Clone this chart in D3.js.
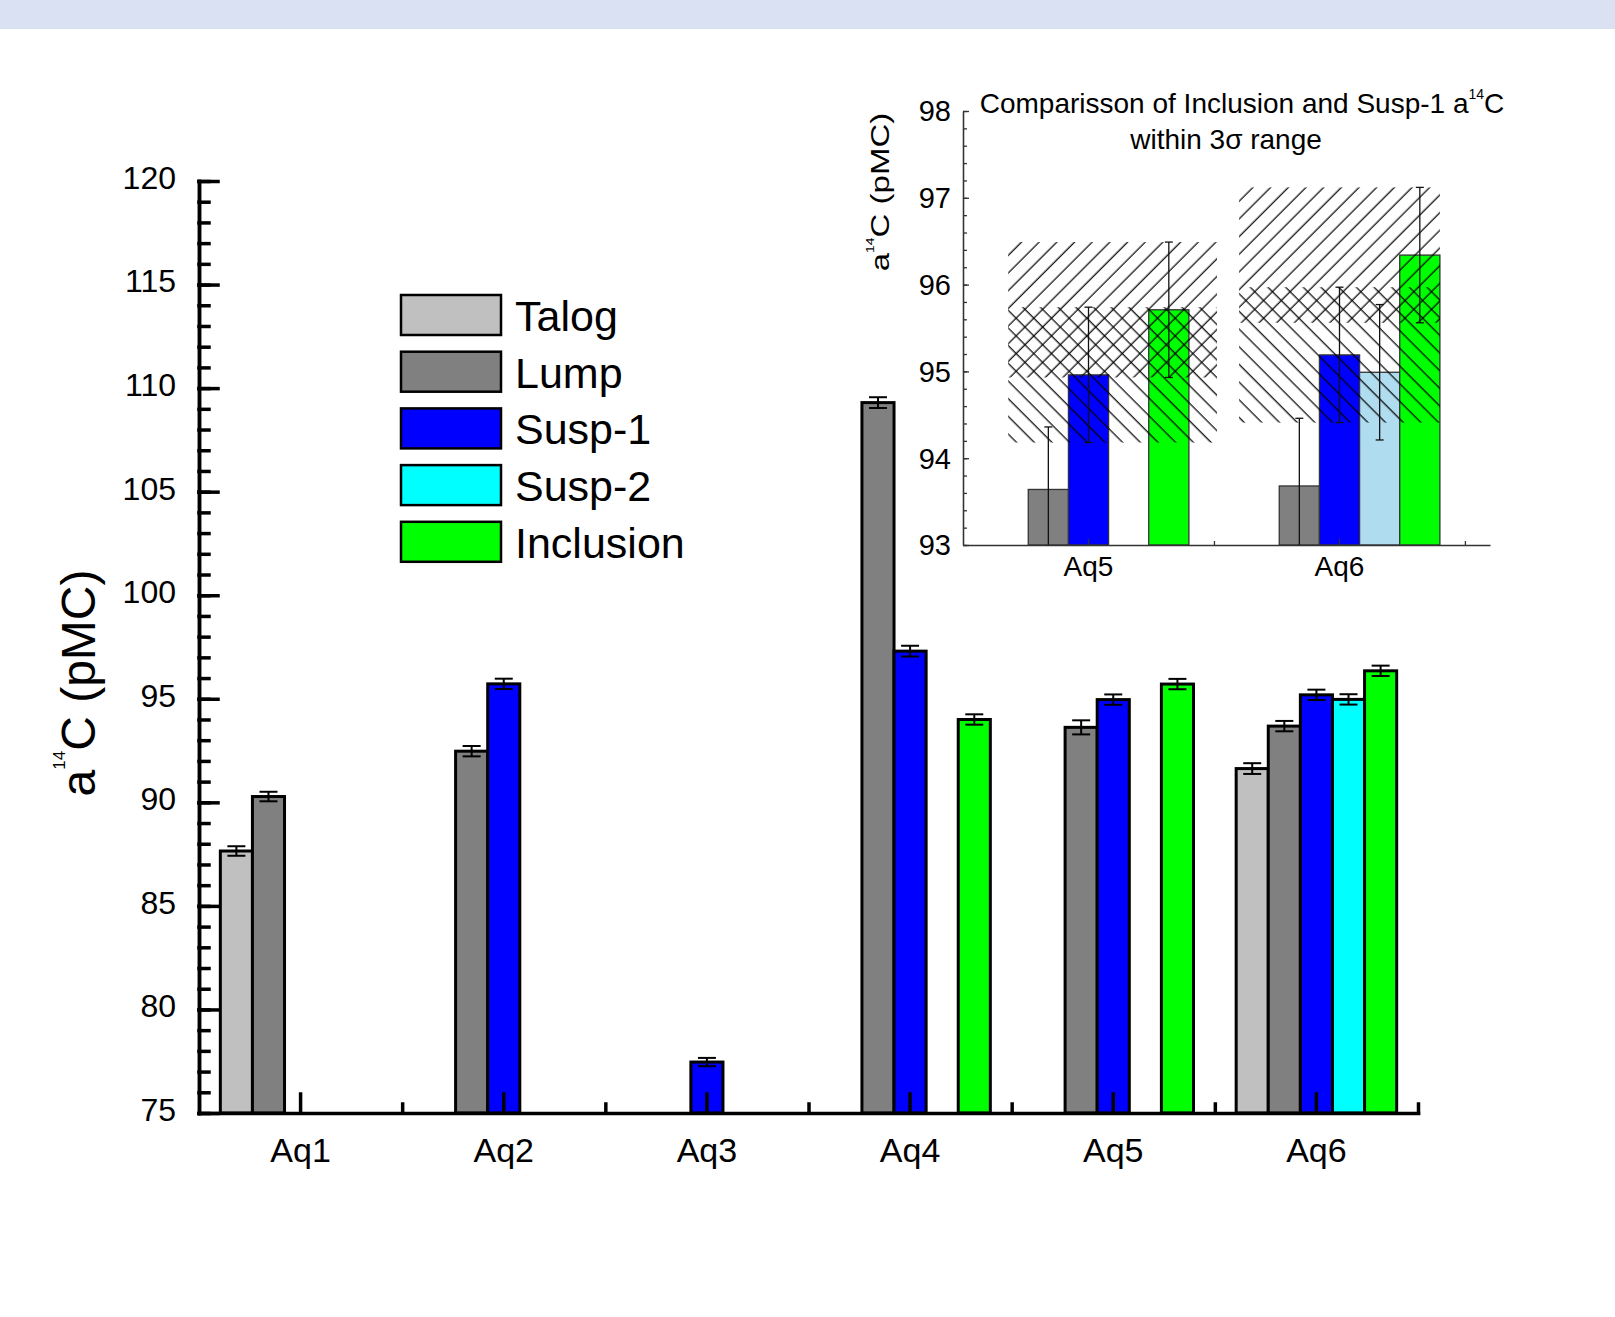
<!DOCTYPE html>
<html>
<head>
<meta charset="utf-8">
<script src="https://cdn.jsdelivr.net/npm/d3@7"></script>
<style>
  body { margin: 0; background: #fff; }
  svg { display: block; font-family: Arial, "Liberation Sans", sans-serif; }
</style>
</head>
<body>
<svg></svg>
<script>
const width = 1615;
const height = 1317;

// main chart data
const categories = ["Aq1", "Aq2", "Aq3", "Aq4", "Aq5", "Aq6"];
const seriesNames = ["Talog", "Lump", "Susp-1", "Susp-2", "Inclusion"];
const talog     = [87.65, null, null, null, null, 91.63];
const lump      = [90.28, 92.47, null, 109.3, 93.62, 93.68];
const susp1     = [null, 95.72, 77.46, 97.3, 94.96, 95.19];
const susp2     = [null, null, null, null, null, 94.97];
const inclusion = [null, null, null, 94.0, 95.71, 96.35];
const talogErr     = [0.23, null, null, null, null, 0.26];
const lumpErr      = [0.23, 0.25, null, 0.26, 0.34, 0.25];
const susp1Err     = [null, 0.25, 0.2, 0.26, 0.25, 0.25];
const susp2Err     = [null, null, null, null, null, 0.25];
const inclusionErr = [null, null, null, 0.25, 0.25, 0.25];
const yTicks = [75, 80, 85, 90, 95, 100, 105, 110, 115, 120];

// inset data (errors are 3 sigma)
const insetCategories = ["Aq5", "Aq6"];
const insetNames = ["Lump", "Susp-1", "Susp-2", "Inclusion"];
const insetLump      = [93.64, 93.68];
const insetSusp1     = [94.96, 95.19];
const insetSusp2     = [null, 94.99];
const insetInclusion = [95.71, 96.34];
const insetLumpErr      = [0.72, 0.78];
const insetSusp1Err     = [0.78, 0.78];
const insetSusp2Err     = [null, 0.78];
const insetInclusionErr = [0.78, 0.78];
const insetYTicks = [93, 94, 95, 96, 97, 98];

const colors = {"Talog": "#c0c0c0", "Lump": "#808080", "Susp-1": "#0000ff", "Susp-2": "#00ffff", "Inclusion": "#00ff00"};
const insetColors = {"Lump": "#808080", "Susp-1": "#0000ff", "Susp-2": "#b0dcf0", "Inclusion": "#00ff00"};

let svg = d3.select("svg")
    .attr("width", width)
    .attr("height", height);

// top band
svg.append("rect")
    .attr("x", 0).attr("y", 0)
    .attr("width", width).attr("height", 29)
    .attr("fill", "#d9e1f2");

let defs = svg.append("defs");
function hatch(id, angle) {
    let p = defs.append("pattern")
        .attr("id", id)
        .attr("patternUnits", "userSpaceOnUse")
        .attr("width", 12.5).attr("height", 12.5)
        .attr("patternTransform", `rotate(${angle})`);
    p.append("line")
        .attr("x1", 6).attr("y1", -2).attr("x2", 6).attr("y2", 15)
        .attr("stroke", "#000").attr("stroke-width", 1.2);
}
hatch("fwd", 45);
hatch("back", -45);

/////////////////// main chart

const x = d3.scaleBand().domain(categories).range([199, 1418]);
const xEdge = d3.scaleLinear().domain([0, categories.length]).range([199, 1418]);
const y = d3.scaleLinear().domain([75, 120]).range([1113, 181]);
const slotW = x.step() * 0.158;

const mainSeries = [talog, lump, susp1, susp2, inclusion];
const mainErrs = [talogErr, lumpErr, susp1Err, susp2Err, inclusionErr];
let bars = [];
mainSeries.forEach((vals, s) => vals.forEach((v, c) => {
    if (v != null) bars.push({cat: categories[c], slot: s, name: seriesNames[s], v: v, e: mainErrs[s][c]});
}));
const barX = d => x(d.cat) + x.bandwidth() / 2 + (d.slot - 2.5) * slotW;

let main = svg.append("g");
main.selectAll("rect.bar")
    .data(bars)
    .enter().append("rect")
    .attr("class", "bar")
    .attr("x", barX)
    .attr("y", d => y(d.v))
    .attr("width", slotW)
    .attr("height", d => y(75) - y(d.v))
    .attr("fill", d => colors[d.name])
    .attr("stroke", "#000")
    .attr("stroke-width", 3);

let errG = main.selectAll("g.err")
    .data(bars)
    .enter().append("g")
    .attr("class", "err")
    .attr("stroke", "#000")
    .attr("stroke-width", 2);
errG.append("line")
    .attr("x1", d => barX(d) + slotW / 2).attr("x2", d => barX(d) + slotW / 2)
    .attr("y1", d => y(d.v - d.e)).attr("y2", d => y(d.v + d.e));
errG.append("line")
    .attr("x1", d => barX(d) + slotW / 2 - 9).attr("x2", d => barX(d) + slotW / 2 + 9)
    .attr("y1", d => y(d.v + d.e)).attr("y2", d => y(d.v + d.e));
errG.append("line")
    .attr("x1", d => barX(d) + slotW / 2 - 9).attr("x2", d => barX(d) + slotW / 2 + 9)
    .attr("y1", d => y(d.v - d.e)).attr("y2", d => y(d.v - d.e));

function styleAxis(g, w, size) {
    g.attr("font-family", null).attr("font-size", null);
    g.selectAll("path, line").attr("stroke", "#000").attr("stroke-width", w).attr("stroke-linecap", "square");
    g.selectAll("text").attr("font-size", size).attr("fill", "#000");
}

// y axis
svg.append("g")
    .attr("transform", "translate(199,0)")
    .call(d3.axisLeft(y).tickValues(d3.range(75, 121, 1)).tickSize(-10).tickSizeOuter(0).tickFormat(""))
    .call(g => styleAxis(g, 3.5, 32));
svg.append("g")
    .attr("transform", "translate(199,0)")
    .call(d3.axisLeft(y).tickValues(yTicks).tickSize(-19).tickSizeOuter(0).tickPadding(23))
    .call(g => styleAxis(g, 3.5, 32))
    .call(g => g.selectAll("text").attr("dy", "0.23em"));

// x axis
svg.append("g")
    .attr("transform", "translate(0,1113)")
    .call(d3.axisBottom(xEdge).tickValues(d3.range(1, categories.length + 1)).tickSize(-9).tickSizeOuter(0).tickFormat(""))
    .call(g => styleAxis(g, 3.5, 34));
svg.append("g")
    .attr("transform", "translate(0,1113)")
    .call(d3.axisBottom(x).tickSize(-19).tickSizeOuter(0).tickPadding(25))
    .call(g => styleAxis(g, 3.5, 34))
    .call(g => g.select(".domain").remove());

// y label
let yl = svg.append("text")
    .attr("transform", "translate(95,683) rotate(-90)")
    .attr("text-anchor", "middle")
    .attr("font-size", 48)
    .attr("fill", "#000");
yl.append("tspan").text("a");
yl.append("tspan").attr("font-size", 17).attr("dy", -30).text("14");
yl.append("tspan").attr("dy", 30).text("C (pMC)");

// legend
let legend = svg.append("g").selectAll("g")
    .data(seriesNames)
    .enter().append("g")
    .attr("transform", (d, i) => `translate(401,${295 + i * 56.7})`);
legend.append("rect")
    .attr("width", 100).attr("height", 40)
    .attr("fill", d => colors[d])
    .attr("stroke", "#000")
    .attr("stroke-width", 2.5);
legend.append("text")
    .attr("x", 114).attr("y", 36)
    .attr("font-size", 43)
    .attr("fill", "#000")
    .text(d => d);

/////////////////// inset

const xi = d3.scaleBand().domain(insetCategories).range([963, 1465]);
const xiEdge = d3.scaleLinear().domain([0, 2.1]).range([963, 1490]);
const yi = d3.scaleLinear().domain([93, 98]).range([545, 111]);
const slotI = xi.step() * 0.16;

const insetSeries = [insetLump, insetSusp1, insetSusp2, insetInclusion];
const insetErrs = [insetLumpErr, insetSusp1Err, insetSusp2Err, insetInclusionErr];
let ibars = [];
insetSeries.forEach((vals, s) => vals.forEach((v, c) => {
    if (v != null) ibars.push({cat: insetCategories[c], c: c, name: insetNames[s], slot: seriesNames.indexOf(insetNames[s]), v: v, e: insetErrs[s][c]});
}));
const ibarX = d => xi(d.cat) + xi.bandwidth() / 2 + (d.slot - 2.5) * slotI;

let inset = svg.append("g");
inset.selectAll("rect.ibar")
    .data(ibars)
    .enter().append("rect")
    .attr("class", "ibar")
    .attr("x", ibarX)
    .attr("y", d => yi(d.v))
    .attr("width", slotI)
    .attr("height", d => yi(93) - yi(d.v))
    .attr("fill", d => insetColors[d.name])
    .attr("stroke", "#333")
    .attr("stroke-width", 1.3);

// 3 sigma ranges of Inclusion (/) and Susp-1 (\)
const hatchExtent = [[-2.0, 3.2], [-2.5, 2.5]]; // in bar widths from group centre
let ranges = [];
insetCategories.forEach((cat, c) => {
    ranges.push({cat: cat, c: c, lo: insetInclusion[c] - insetInclusionErr[c], hi: insetInclusion[c] + insetInclusionErr[c], fill: "url(#fwd)"});
    ranges.push({cat: cat, c: c, lo: insetSusp1[c] - insetSusp1Err[c], hi: insetSusp1[c] + insetSusp1Err[c], fill: "url(#back)"});
});
inset.selectAll("rect.range")
    .data(ranges)
    .enter().append("rect")
    .attr("class", "range")
    .attr("x", d => xi(d.cat) + xi.bandwidth() / 2 + hatchExtent[d.c][0] * slotI)
    .attr("width", d => (hatchExtent[d.c][1] - hatchExtent[d.c][0]) * slotI)
    .attr("y", d => yi(d.hi))
    .attr("height", d => yi(d.lo) - yi(d.hi))
    .attr("fill", d => d.fill);

let ierr = inset.selectAll("g.ierr")
    .data(ibars)
    .enter().append("g")
    .attr("class", "ierr")
    .attr("stroke", "#111")
    .attr("stroke-width", 1.3);
ierr.append("line")
    .attr("x1", d => ibarX(d) + slotI / 2).attr("x2", d => ibarX(d) + slotI / 2)
    .attr("y1", d => yi(Math.max(93, d.v - d.e))).attr("y2", d => yi(d.v + d.e));
ierr.append("line")
    .attr("x1", d => ibarX(d) + slotI / 2 - 4).attr("x2", d => ibarX(d) + slotI / 2 + 4)
    .attr("y1", d => yi(d.v + d.e)).attr("y2", d => yi(d.v + d.e));
ierr.filter(d => d.v - d.e >= 93).append("line")
    .attr("x1", d => ibarX(d) + slotI / 2 - 4).attr("x2", d => ibarX(d) + slotI / 2 + 4)
    .attr("y1", d => yi(d.v - d.e)).attr("y2", d => yi(d.v - d.e));

function styleInset(g, size) {
    g.attr("font-family", null).attr("font-size", null);
    g.selectAll("path, line").attr("stroke", "#333").attr("stroke-width", 1.3);
    g.selectAll("text").attr("font-size", size).attr("fill", "#000");
}

svg.append("g")
    .attr("transform", "translate(963,0)")
    .call(d3.axisLeft(yi).tickValues(d3.range(93, 98.01, 0.2)).tickSize(-4).tickSizeOuter(0).tickFormat(""))
    .call(g => styleInset(g, 28));
svg.append("g")
    .attr("transform", "translate(963,0)")
    .call(d3.axisLeft(yi).tickValues(insetYTicks).tickFormat(d3.format("d")).tickSize(-6).tickSizeOuter(0).tickPadding(12))
    .call(g => styleInset(g, 29))
    .call(g => g.selectAll("text").attr("dy", "0.34em"));
svg.append("g")
    .attr("transform", "translate(0,545)")
    .call(d3.axisBottom(xiEdge).tickValues([1, 2]).tickSize(-4).tickSizeOuter(0).tickFormat(""))
    .call(g => styleInset(g, 28));
svg.append("g")
    .attr("transform", "translate(0,545)")
    .call(d3.axisBottom(xi).tickSize(-6).tickSizeOuter(0).tickPadding(11))
    .call(g => styleInset(g, 28))
    .call(g => g.select(".domain").remove());

// inset y label
let iyl = svg.append("text")
    .attr("transform", "translate(889,192) rotate(-90) scale(1.27,1)")
    .attr("text-anchor", "middle")
    .attr("font-size", 26)
    .attr("fill", "#000");
iyl.append("tspan").text("a");
iyl.append("tspan").attr("font-size", 11).attr("dy", -15).text("14");
iyl.append("tspan").attr("dy", 15).text("C (pMC)");

// inset title
let t1 = svg.append("text")
    .attr("x", 1242).attr("y", 113)
    .attr("text-anchor", "middle")
    .attr("font-size", 28)
    .attr("fill", "#000");
t1.append("tspan").text("Comparisson of Inclusion and Susp-1 a");
t1.append("tspan").attr("font-size", 14).attr("dy", -14).text("14");
t1.append("tspan").attr("dy", 14).text("C");
svg.append("text")
    .attr("x", 1226).attr("y", 149)
    .attr("text-anchor", "middle")
    .attr("font-size", 28)
    .attr("fill", "#000")
    .text("within 3σ range");
</script>
</body>
</html>
